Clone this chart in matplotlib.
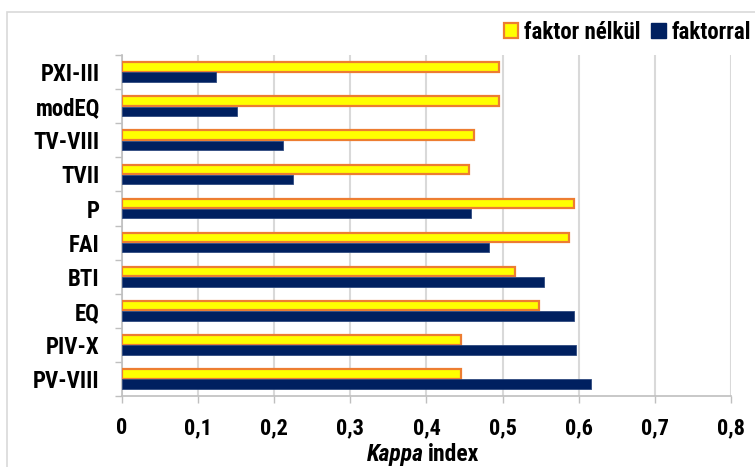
import matplotlib
matplotlib.use('Agg')
import matplotlib.pyplot as plt
from matplotlib.patches import Patch, Rectangle
from matplotlib.ticker import FixedLocator, FuncFormatter
import numpy as np

# categories, top to bottom
categories = ['PXI-III', 'modEQ', 'TV-VIII', 'TVII', 'P', 'FAI', 'BTI', 'EQ', 'PIV-X', 'PV-VIII']
faktor_nelkul = [0.495, 0.495, 0.463, 0.456, 0.594, 0.587, 0.516, 0.548, 0.445, 0.445]
faktorral = [0.123, 0.151, 0.211, 0.225, 0.458, 0.482, 0.554, 0.594, 0.596, 0.616]
x_ticks = [0, 0.1, 0.2, 0.3, 0.4, 0.5, 0.6, 0.7, 0.8]

FONT = ['Roboto Condensed', 'Archivo Narrow', 'Liberation Sans', 'DejaVu Sans']
plt.rcParams['font.family'] = FONT
plt.rcParams['font.weight'] = 'bold'

YELLOW = '#FFFF00'
ORANGE = '#ED7D31'
NAVY = '#002060'
GRID = '#D9D9D9'
AXIS = '#BFBFBF'

fig = plt.figure(figsize=(7.55, 4.67), dpi=100)
ax = fig.add_axes([0.1616, 0.152, 0.8066, 0.730])

y = np.arange(len(categories))
h = 0.28
ax.barh(y - 0.15, faktor_nelkul, height=h, color=YELLOW, edgecolor=ORANGE,
        linewidth=1.6, label='faktor nélkül', zorder=3)
ax.barh(y + 0.15, faktorral, height=h, color=NAVY, edgecolor='#2F4A80',
        linewidth=0.6, label='faktorral', zorder=3)

ax.set_xlim(0, 0.8)
ax.set_ylim(len(categories) - 0.5, -0.5)

ax.set_xticks(x_ticks)
ax.xaxis.set_major_formatter(FuncFormatter(lambda v, p: ('%g' % round(v, 1)).replace('.', ',')))
ax.tick_params(axis='x', length=5, width=1, color=AXIS, labelsize=16, pad=10)
ax.set_yticks(y)
ax.set_yticklabels(categories)
ax.yaxis.set_minor_locator(FixedLocator(np.arange(-0.5, len(categories), 1)))
ax.tick_params(axis='y', which='major', length=0, labelsize=16.5, pad=16)
ax.tick_params(axis='y', which='minor', length=5, width=1, color=AXIS)

ax.grid(axis='x', color=GRID, linewidth=1.5, zorder=0)
ax.set_axisbelow(True)
for s in ['top', 'right']:
    ax.spines[s].set_visible(False)
for s in ['left', 'bottom']:
    ax.spines[s].set_color(AXIS)
    ax.spines[s].set_linewidth(1.2)

# x axis title: "Kappa" in italics, " index" upright
t1 = fig.text(367 / 755, 0.002, 'Kappa', fontsize=17, fontweight='bold', style='italic', va='bottom')
ax.annotate('index', xy=(1, 0), xycoords=t1, xytext=(3, 0), textcoords='offset points',
            fontsize=17, fontweight='bold', va='bottom', ha='left')

handles = [Patch(facecolor=YELLOW, edgecolor=ORANGE, linewidth=1.6, label='faktor nélkül'),
           Patch(facecolor=NAVY, edgecolor=NAVY, label='faktorral')]
fig.legend(handles=handles, loc='center right', bbox_to_anchor=(1.013, 0.931), ncol=2,
           frameon=False, fontsize=16.5, handlelength=0.65, handleheight=0.65,
           handletextpad=0.25, columnspacing=0.45, borderpad=0.1)

fig.patches.append(Rectangle((0.0095, -0.1), 1.1, 0.1 + 1 - 12 / 467, transform=fig.transFigure,
                             fill=False, edgecolor=GRID, linewidth=1.2))

fig.savefig('out.png', dpi=100)
